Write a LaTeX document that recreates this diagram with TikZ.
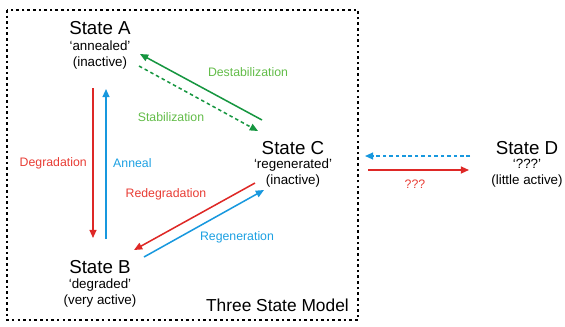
\documentclass[tikz,border=0pt]{standalone}
\usepackage{fontspec}
\setmainfont{Liberation Sans}
\usetikzlibrary{arrows.meta}

\definecolor{redarr}{RGB}{222,40,38}
\definecolor{bluearr}{RGB}{24,152,222}
\definecolor{greenarr}{RGB}{22,150,64}
\definecolor{redtxt}{RGB}{232,60,52}
\definecolor{bluetxt}{RGB}{28,160,226}
\definecolor{greentxt}{RGB}{98,188,72}

\begin{document}
\begin{tikzpicture}[x=0.03cm,y=-0.03cm,
        title/.style={inner sep=0,font=\fontsize{16}{18}\selectfont},
        sub/.style={inner sep=0,align=center,font=\fontsize{11.4}{13.6}\selectfont},
        lbl/.style={inner sep=0,font=\fontsize{10.5}{12}\selectfont},
        arr/.style={line width=1.3pt,-{Triangle[length=7pt,width=6pt]}},
        dsh/.style={dash pattern=on 3pt off 2.5pt}]

        \useasboundingbox (0,0) rectangle (565,326);

        %FRAME of the three state model
        \draw[line width=1.4pt,dash pattern=on 2.2pt off 2.6pt] (7,10) rectangle (358,320);
        \node[inner sep=0,anchor=east,font=\fontsize{14.8}{16}\selectfont] (model) at (349,305) {Three State Model};

        %STATES
        \node[title] (A) at (100,28) {State A};
        \node[sub] (Asub) at (100,55) {‘annealed’\\(inactive)};
        \node[title] (B) at (100,267) {State B};
        \node[sub] (Bsub) at (100,293) {‘degraded’\\(very active)};
        \node[title] (C) at (293,148) {State C};
        \node[sub] (Csub) at (293,173) {‘regenerated’\\(inactive)};
        \node[title] (D) at (527,148) {State D};
        \node[sub] (Dsub) at (527,173) {‘???’\\(little active)};

        %END POINTS of the arrows
        \coordinate (degS) at (93,88);   \coordinate (degE) at (93,238);
        \coordinate (annS) at (106,239); \coordinate (annE) at (106,89);
        \coordinate (desS) at (262,120); \coordinate (desE) at (140,54);
        \coordinate (staS) at (139,66);  \coordinate (staE) at (258,131);
        \coordinate (redS) at (255,183); \coordinate (redE) at (134,250);
        \coordinate (regS) at (144,257); \coordinate (regE) at (264,190);
        \coordinate (backS) at (470,156); \coordinate (backE) at (365,156);
        \coordinate (fwdS) at (368,170); \coordinate (fwdE) at (469,170);

        %A <-> B
        \draw[arr,redarr] (degS)--(degE);
        \node[lbl,redtxt,anchor=east] (deg) at (87,163) {Degradation};
        \draw[arr,bluearr] (annS)--(annE);
        \node[lbl,bluetxt,anchor=west] (ann) at (113,163) {Anneal};

        %A <-> C
        \draw[arr,greenarr] (desS)--(desE);
        \node[lbl,greentxt] (des) at (248,72) {Destabilization};
        \draw[arr,greenarr,dsh] (staS)--(staE);
        \node[lbl,greentxt] (sta) at (171,117) {Stabilization};

        %B <-> C
        \draw[arr,redarr] (redS)--(redE);
        \node[lbl,redtxt] (red) at (166,194) {Redegradation};
        \draw[arr,bluearr] (regS)--(regE);
        \node[lbl,bluetxt] (reg) at (237,237) {Regeneration};

        %C <-> D
        \draw[arr,bluearr,dsh] (backS)--(backE);
        \draw[arr,redarr] (fwdS)--(fwdE);
        \node[lbl,redtxt] (unk) at (415,184) {???};
    \end{tikzpicture}
\end{document}
